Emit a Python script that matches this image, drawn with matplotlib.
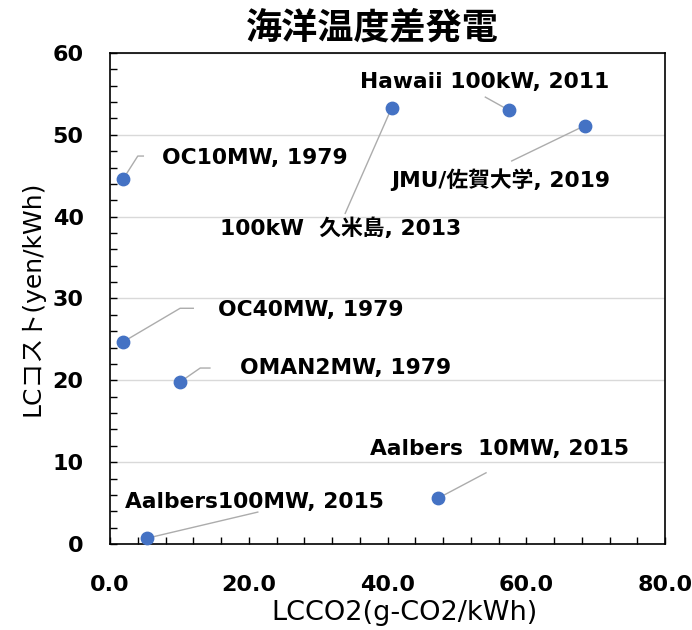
import numpy as np
import matplotlib.pyplot as plt

plt.rcParams['font.family'] = ['DejaVu Sans', 'Noto Sans CJK JP']

# donnees
labels = ['OC10MW, 1979', '100kW  久米島, 2013', 'Hawaii 100kW, 2011', 'JMU/佐賀大学, 2019',
          'OC40MW, 1979', 'OMAN2MW, 1979', 'Aalbers  10MW, 2015', 'Aalbers100MW, 2015']
lcco2 = [1.9, 40.6, 57.5, 68.4, 1.9, 10.1, 47.3, 5.3]
lc_cost = [44.6, 53.3, 53.0, 51.1, 24.7, 19.8, 5.6, 0.7]

# position du texte (bord gauche, centre) et coudes des traits de rappel
text_pos = [(7.5, 47.2), (15.9, 38.6), (36.0, 56.5), (40.6, 44.5),
            (15.6, 28.6), (18.7, 21.5), (37.5, 11.6), (2.2, 5.1)]
leaders = [[(4.0, 47.4), (4.8, 47.4)], [(33.9, 40.4)], [(54.1, 54.6)], [(57.9, 46.8)],
           [(10.1, 28.8), (12.0, 28.8)], [(13.0, 21.5), (14.4, 21.5)], [(54.2, 8.7)], [(21.3, 3.9)]]

fig = plt.figure(figsize=(6.92, 6.30), dpi=100)
ax = fig.add_axes([0.159, 0.1365, 0.802, 0.7795])

for i in range(len(labels)):
    xs = [lcco2[i]] + [p[0] for p in leaders[i]]
    ys = [lc_cost[i]] + [p[1] for p in leaders[i]]
    ax.plot(xs, ys, color='#acacac', lw=1.0, zorder=2)
    ax.text(text_pos[i][0], text_pos[i][1], labels[i], fontsize=15.7, fontweight='bold',
            ha='left', va='center', zorder=4)

ax.scatter(lcco2, lc_cost, s=80, color='#4472C4', zorder=3, clip_on=False)

ax.set_xlim(0, 80)
ax.set_ylim(0, 60)
ax.set_xticks([0, 20, 40, 60, 80])
ax.set_xticklabels(['0.0', '20.0', '40.0', '60.0', '80.0'])
ax.set_yticks([0, 10, 20, 30, 40, 50, 60])
ax.set_xticks(np.arange(4, 80, 4), minor=True)
ax.set_yticks(np.arange(2, 60, 2), minor=True)
ax.tick_params(which='both', direction='in', length=5, width=1)
ax.tick_params(axis='x', which='major', labelsize=16, pad=22)
ax.tick_params(axis='y', which='major', labelsize=16, pad=19)
for lab in ax.get_xticklabels() + ax.get_yticklabels():
    lab.set_fontweight('bold')
ax.grid(axis='y', which='major', color='#d9d9d9', lw=1)
ax.set_axisbelow(True)
for s in ax.spines.values():
    s.set_linewidth(1.2)

ax.set_xlabel('LCCO2(g-CO2/kWh)', fontsize=19.5, labelpad=4, x=0.53)
ax.set_ylabel('LCコスト(yen/kWh)', fontsize=18, labelpad=6)
fig.text(372 / 692, 1 - 28 / 630, '海洋温度差発電', fontsize=26, fontweight='bold',
         family='Noto Sans CJK JP', ha='center', va='center')

fig.savefig('out.png', dpi=100)
